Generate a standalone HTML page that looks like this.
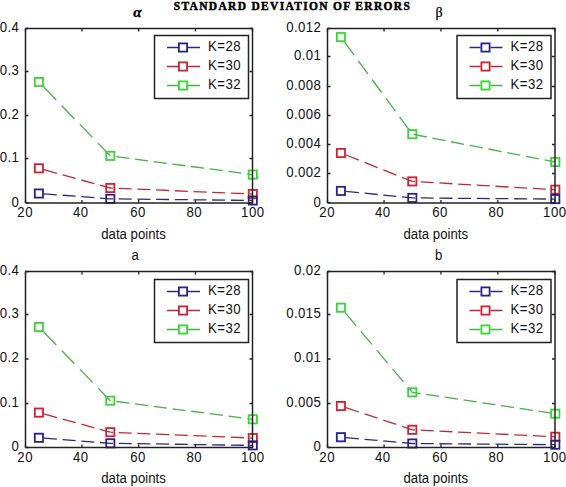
<!DOCTYPE html>
<html><head><meta charset="utf-8"><style>
html,body{margin:0;padding:0;background:#fff;width:566px;height:487px;overflow:hidden}
svg{display:block}
text{font-family:"Liberation Sans",sans-serif;font-size:14px;fill:#111}
text.s{font-size:15px}
</style></head><body>
<svg width="566" height="487" viewBox="0 0 566 487">
<rect width="566" height="487" fill="#fff"/>
<path d="M43.73 87L56.29 100 M61.8 105.7L74.36 118.7 M79.87 124.4L92.43 137.4 M97.93 143.1L110.3 155.9 M110.3 155.9L110.5 155.93 M116.2 156.67L129.2 158.38 M134.9 159.13L147.9 160.83 M153.6 161.58L166.6 163.29 M172.3 164.04L185.3 165.74 M191 166.49L204 168.2 M209.7 168.94L222.7 170.65 M228.4 171.4L241.4 173.1 M247.1 173.85L252.8 174.6" stroke="#45b045" stroke-width="1.3" fill="none"/>
<path d="M43.9 169.68L56.9 173.27 M62.6 174.84L75.6 178.43 M81.3 180L94.3 183.59 M100 185.16L110.3 188 M110.3 188L113 188.12 M118.7 188.36L131.7 188.92 M137.4 189.16L150.4 189.72 M156.1 189.96L169.1 190.52 M174.8 190.76L187.8 191.32 M193.5 191.56L206.5 192.12 M212.2 192.36L225.2 192.92 M230.9 193.16L243.9 193.72 M249.6 193.96L252.8 194.1" stroke="#c02838" stroke-width="1.3" fill="none"/>
<path d="M43.9 193.87L56.9 194.84 M62.6 195.26L75.6 196.22 M81.3 196.65L94.3 197.61 M100 198.04L110.3 198.8 M110.3 198.8L113 198.83 M118.7 198.9L131.7 199.06 M137.4 199.12L150.4 199.28 M156.1 199.35L169.1 199.5 M174.8 199.57L187.8 199.72 M193.5 199.79L206.5 199.95 M212.2 200.02L225.2 200.17 M230.9 200.24L243.9 200.39 M249.6 200.46L252.8 200.5" stroke="#2e2880" stroke-width="1.3" fill="none"/>
<rect x="34.8" y="77.9" width="8.2" height="8.2" fill="none" stroke="#3ad43a" stroke-width="1.8"/>
<rect x="106.2" y="151.8" width="8.2" height="8.2" fill="none" stroke="#3ad43a" stroke-width="1.8"/>
<rect x="248.7" y="170.5" width="8.2" height="8.2" fill="none" stroke="#3ad43a" stroke-width="1.8"/>
<rect x="34.8" y="164.2" width="8.2" height="8.2" fill="none" stroke="#cc2233" stroke-width="1.8"/>
<rect x="106.2" y="183.9" width="8.2" height="8.2" fill="none" stroke="#cc2233" stroke-width="1.8"/>
<rect x="248.7" y="190" width="8.2" height="8.2" fill="none" stroke="#cc2233" stroke-width="1.8"/>
<rect x="34.8" y="189.4" width="8.2" height="8.2" fill="none" stroke="#2a2288" stroke-width="1.8"/>
<rect x="106.2" y="194.7" width="8.2" height="8.2" fill="none" stroke="#2a2288" stroke-width="1.8"/>
<rect x="248.7" y="196.4" width="8.2" height="8.2" fill="none" stroke="#2a2288" stroke-width="1.8"/>
<path d="M25.25 28.5H252.5M25.5 28.5V203" stroke="#222" stroke-width="1.5" fill="none"/>
<path d="M25.5 203H252.5" stroke="#222" stroke-width="1.5" fill="none"/>
<path d="M252.5 27.75V203.75" stroke="#222" stroke-width="1.5" fill="none"/>
<path d="M25.5 203V200M25.5 28.5V31.5M81.95 203V200M81.95 28.5V31.5M138.7 203V200M138.7 28.5V31.5M195.45 203V200M195.45 28.5V31.5M252.5 203V200M252.5 28.5V31.5M25.5 202.7H28.5M252.5 202.7H249.5M25.5 158.5H28.5M252.5 158.5H249.5M25.5 115.5H28.5M252.5 115.5H249.5M25.5 71.5H28.5M252.5 71.5H249.5M25.5 28.5H28.5M252.5 28.5H249.5" stroke="#222" stroke-width="1.3" fill="none"/>
<text class="s" transform="translate(25.12,217.2) scale(0.88,1)" text-anchor="middle" letter-spacing="0.5">20</text>
<text class="s" transform="translate(80.72,217.2) scale(0.88,1)" text-anchor="middle" letter-spacing="0.5">40</text>
<text class="s" transform="translate(138.02,217.2) scale(0.88,1)" text-anchor="middle" letter-spacing="0.5">60</text>
<text class="s" transform="translate(194.22,217.2) scale(0.88,1)" text-anchor="middle" letter-spacing="0.5">80</text>
<text class="s" transform="translate(252.77,217.2) scale(0.88,1)" text-anchor="middle" letter-spacing="0.5">100</text>
<text class="s" transform="translate(19.34,206.6) scale(0.88,1)" text-anchor="end" letter-spacing="0.5">0</text>
<text class="s" transform="translate(19.34,161.7) scale(0.88,1)" text-anchor="end" letter-spacing="0.5">0.1</text>
<text class="s" transform="translate(19.34,118.7) scale(0.88,1)" text-anchor="end" letter-spacing="0.5">0.2</text>
<text class="s" transform="translate(19.34,74.7) scale(0.88,1)" text-anchor="end" letter-spacing="0.5">0.3</text>
<text class="s" transform="translate(19.34,31.7) scale(0.88,1)" text-anchor="end" letter-spacing="0.5">0.4</text>
<text class="s" transform="translate(133.5,238.5) scale(0.88,1)" text-anchor="middle">data points</text>
<rect x="154.5" y="35.5" width="94" height="63" fill="#fff" stroke="#222" stroke-width="1.5"/>
<path d="M167 47.5H178M188 47.5H200" stroke="#2e2880" stroke-width="1.3"/>
<rect x="178.9" y="43.4" width="8.2" height="8.2" fill="none" stroke="#2a2288" stroke-width="1.8"/>
<text class="s" transform="translate(208,50.5) scale(0.88,1)" letter-spacing="0.55">K=28</text>
<path d="M167 66.5H178M188 66.5H200" stroke="#c02838" stroke-width="1.3"/>
<rect x="178.9" y="62.4" width="8.2" height="8.2" fill="none" stroke="#cc2233" stroke-width="1.8"/>
<text class="s" transform="translate(208,69.5) scale(0.88,1)" letter-spacing="0.55">K=30</text>
<path d="M167 85.5H178M188 85.5H200" stroke="#45b045" stroke-width="1.3"/>
<rect x="178.9" y="81.4" width="8.2" height="8.2" fill="none" stroke="#3ad43a" stroke-width="1.8"/>
<text class="s" transform="translate(208,88.5) scale(0.88,1)" letter-spacing="0.55">K=32</text>
<path d="M344.58 42.1L354.14 55.1 M358.33 60.8L367.89 73.8 M372.08 79.5L381.64 92.5 M385.83 98.2L395.39 111.2 M399.58 116.9L409.14 129.9 M413.7 134.47L426.7 137 M432.4 138.11L445.4 140.63 M451.1 141.74L464.1 144.27 M469.8 145.38L482.8 147.91 M488.5 149.01L501.5 151.54 M507.2 152.65L520.2 155.18 M525.9 156.28L538.9 158.81 M544.6 159.92L555.3 162" stroke="#45b045" stroke-width="1.3" fill="none"/>
<path d="M345.9 154.99L358.9 160.16 M364.6 162.43L377.6 167.6 M383.3 169.86L396.3 175.04 M402 177.3L412.3 181.4 M412.3 181.4L415 181.56 M420.7 181.89L433.7 182.64 M439.4 182.97L452.4 183.73 M458.1 184.06L471.1 184.81 M476.8 185.14L489.8 185.9 M495.5 186.23L508.5 186.98 M514.2 187.31L527.2 188.07 M532.9 188.4L545.9 189.15 M551.6 189.49L555.3 189.7" stroke="#c02838" stroke-width="1.3" fill="none"/>
<path d="M345.9 191.39L358.9 192.66 M364.6 193.22L377.6 194.5 M383.3 195.06L396.3 196.33 M402 196.89L412.3 197.9 M412.3 197.9L415 197.92 M420.7 197.97L433.7 198.08 M439.4 198.13L452.4 198.24 M458.1 198.28L471.1 198.39 M476.8 198.44L489.8 198.55 M495.5 198.6L508.5 198.71 M514.2 198.76L527.2 198.86 M532.9 198.91L545.9 199.02 M551.6 199.07L555.3 199.1" stroke="#2e2880" stroke-width="1.3" fill="none"/>
<rect x="336.8" y="33" width="8.2" height="8.2" fill="none" stroke="#3ad43a" stroke-width="1.8"/>
<rect x="408.2" y="130.1" width="8.2" height="8.2" fill="none" stroke="#3ad43a" stroke-width="1.8"/>
<rect x="551.2" y="157.9" width="8.2" height="8.2" fill="none" stroke="#3ad43a" stroke-width="1.8"/>
<rect x="336.8" y="148.9" width="8.2" height="8.2" fill="none" stroke="#cc2233" stroke-width="1.8"/>
<rect x="408.2" y="177.3" width="8.2" height="8.2" fill="none" stroke="#cc2233" stroke-width="1.8"/>
<rect x="551.2" y="185.6" width="8.2" height="8.2" fill="none" stroke="#cc2233" stroke-width="1.8"/>
<rect x="336.8" y="186.8" width="8.2" height="8.2" fill="none" stroke="#2a2288" stroke-width="1.8"/>
<rect x="408.2" y="193.8" width="8.2" height="8.2" fill="none" stroke="#2a2288" stroke-width="1.8"/>
<rect x="551.2" y="195" width="8.2" height="8.2" fill="none" stroke="#2a2288" stroke-width="1.8"/>
<path d="M327.25 28.5H555M327.5 28.5V203" stroke="#222" stroke-width="1.5" fill="none"/>
<path d="M327.5 203H555" stroke="#222" stroke-width="1.5" fill="none"/>
<path d="M555 27.75V203.75" stroke="#222" stroke-width="1.5" fill="none"/>
<path d="M327.5 203V200M327.5 28.5V31.5M384.07 203V200M384.07 28.5V31.5M440.95 203V200M440.95 28.5V31.5M497.82 203V200M497.82 28.5V31.5M555 203V200M555 28.5V31.5M327.5 202.7H330.5M555 202.7H552M327.5 173.5H330.5M555 173.5H552M327.5 144.5H330.5M555 144.5H552M327.5 115.5H330.5M555 115.5H552M327.5 86.5H330.5M555 86.5H552M327.5 56.5H330.5M555 56.5H552M327.5 28.5H330.5M555 28.5H552" stroke="#222" stroke-width="1.3" fill="none"/>
<text class="s" transform="translate(327.12,217.2) scale(0.88,1)" text-anchor="middle" letter-spacing="0.5">20</text>
<text class="s" transform="translate(382.72,217.2) scale(0.88,1)" text-anchor="middle" letter-spacing="0.5">40</text>
<text class="s" transform="translate(440.02,217.2) scale(0.88,1)" text-anchor="middle" letter-spacing="0.5">60</text>
<text class="s" transform="translate(496.22,217.2) scale(0.88,1)" text-anchor="middle" letter-spacing="0.5">80</text>
<text class="s" transform="translate(554.77,217.2) scale(0.88,1)" text-anchor="middle" letter-spacing="0.5">100</text>
<text class="s" transform="translate(321.34,206.6) scale(0.88,1)" text-anchor="end" letter-spacing="0.5">0</text>
<text class="s" transform="translate(321.34,176.7) scale(0.88,1)" text-anchor="end" letter-spacing="0.5">0.002</text>
<text class="s" transform="translate(321.34,147.7) scale(0.88,1)" text-anchor="end" letter-spacing="0.5">0.004</text>
<text class="s" transform="translate(321.34,118.7) scale(0.88,1)" text-anchor="end" letter-spacing="0.5">0.006</text>
<text class="s" transform="translate(321.34,89.7) scale(0.88,1)" text-anchor="end" letter-spacing="0.5">0.008</text>
<text class="s" transform="translate(321.34,59.7) scale(0.88,1)" text-anchor="end" letter-spacing="0.5">0.01</text>
<text class="s" transform="translate(321.34,31.7) scale(0.88,1)" text-anchor="end" letter-spacing="0.5">0.012</text>
<text class="s" transform="translate(435.75,238.5) scale(0.88,1)" text-anchor="middle">data points</text>
<rect x="457" y="35.5" width="94" height="63" fill="#fff" stroke="#222" stroke-width="1.5"/>
<path d="M469.5 47.5H480.5M490.5 47.5H502.5" stroke="#2e2880" stroke-width="1.3"/>
<rect x="481.4" y="43.4" width="8.2" height="8.2" fill="none" stroke="#2a2288" stroke-width="1.8"/>
<text class="s" transform="translate(510.5,50.5) scale(0.88,1)" letter-spacing="0.55">K=28</text>
<path d="M469.5 66.5H480.5M490.5 66.5H502.5" stroke="#c02838" stroke-width="1.3"/>
<rect x="481.4" y="62.4" width="8.2" height="8.2" fill="none" stroke="#cc2233" stroke-width="1.8"/>
<text class="s" transform="translate(510.5,69.5) scale(0.88,1)" letter-spacing="0.55">K=30</text>
<path d="M469.5 85.5H480.5M490.5 85.5H502.5" stroke="#45b045" stroke-width="1.3"/>
<rect x="481.4" y="81.4" width="8.2" height="8.2" fill="none" stroke="#3ad43a" stroke-width="1.8"/>
<text class="s" transform="translate(510.5,88.5) scale(0.88,1)" letter-spacing="0.55">K=32</text>
<path d="M43.74 332L56.34 345 M61.86 350.7L74.45 363.7 M79.98 369.4L92.57 382.4 M98.09 388.1L110.3 400.7 M110.3 400.7L110.7 400.75 M116.4 401.5L129.4 403.19 M135.1 403.94L148.1 405.63 M153.8 406.38L166.8 408.07 M172.5 408.82L185.5 410.52 M191.2 411.26L204.2 412.96 M209.9 413.7L222.9 415.4 M228.6 416.14L241.6 417.84 M247.3 418.58L252.8 419.3" stroke="#45b045" stroke-width="1.3" fill="none"/>
<path d="M43.9 413.97L56.9 417.54 M62.6 419.11L75.6 422.67 M81.3 424.24L94.3 427.81 M100 429.37L110.3 432.2 M110.3 432.2L113 432.31 M118.7 432.55L131.7 433.09 M137.4 433.32L150.4 433.86 M156.1 434.1L169.1 434.63 M174.8 434.87L187.8 435.41 M193.5 435.64L206.5 436.18 M212.2 436.42L225.2 436.96 M230.9 437.19L243.9 437.73 M249.6 437.97L252.8 438.1" stroke="#c02838" stroke-width="1.3" fill="none"/>
<path d="M43.9 438.19L56.9 439.19 M62.6 439.63L75.6 440.63 M81.3 441.07L94.3 442.07 M100 442.51L110.3 443.3 M110.3 443.3L113 443.34 M118.7 443.42L131.7 443.62 M137.4 443.7L150.4 443.89 M156.1 443.97L169.1 444.17 M174.8 444.25L187.8 444.44 M193.5 444.53L206.5 444.72 M212.2 444.8L225.2 444.99 M230.9 445.08L243.9 445.27 M249.6 445.35L252.8 445.4" stroke="#2e2880" stroke-width="1.3" fill="none"/>
<rect x="34.8" y="322.9" width="8.2" height="8.2" fill="none" stroke="#3ad43a" stroke-width="1.8"/>
<rect x="106.2" y="396.6" width="8.2" height="8.2" fill="none" stroke="#3ad43a" stroke-width="1.8"/>
<rect x="248.7" y="415.2" width="8.2" height="8.2" fill="none" stroke="#3ad43a" stroke-width="1.8"/>
<rect x="34.8" y="408.5" width="8.2" height="8.2" fill="none" stroke="#cc2233" stroke-width="1.8"/>
<rect x="106.2" y="428.1" width="8.2" height="8.2" fill="none" stroke="#cc2233" stroke-width="1.8"/>
<rect x="248.7" y="434" width="8.2" height="8.2" fill="none" stroke="#cc2233" stroke-width="1.8"/>
<rect x="34.8" y="433.7" width="8.2" height="8.2" fill="none" stroke="#2a2288" stroke-width="1.8"/>
<rect x="106.2" y="439.2" width="8.2" height="8.2" fill="none" stroke="#2a2288" stroke-width="1.8"/>
<rect x="248.7" y="441.3" width="8.2" height="8.2" fill="none" stroke="#2a2288" stroke-width="1.8"/>
<path d="M25.25 271.5H252.5M25.5 271.5V447.5" stroke="#222" stroke-width="1.5" fill="none"/>
<path d="M25.5 447.5H252.5" stroke="#222" stroke-width="1.5" fill="none"/>
<path d="M252.5 270.75V448.25" stroke="#222" stroke-width="1.5" fill="none"/>
<path d="M25.5 447.5V444.5M25.5 271.5V274.5M81.95 447.5V444.5M81.95 271.5V274.5M138.7 447.5V444.5M138.7 271.5V274.5M195.45 447.5V444.5M195.45 271.5V274.5M252.5 447.5V444.5M252.5 271.5V274.5M25.5 447.5H28.5M252.5 447.5H249.5M25.5 403.5H28.5M252.5 403.5H249.5M25.5 359H28.5M252.5 359H249.5M25.5 314.5H28.5M252.5 314.5H249.5M25.5 271.5H28.5M252.5 271.5H249.5" stroke="#222" stroke-width="1.3" fill="none"/>
<text class="s" transform="translate(25.12,461.7) scale(0.88,1)" text-anchor="middle" letter-spacing="0.5">20</text>
<text class="s" transform="translate(80.72,461.7) scale(0.88,1)" text-anchor="middle" letter-spacing="0.5">40</text>
<text class="s" transform="translate(138.02,461.7) scale(0.88,1)" text-anchor="middle" letter-spacing="0.5">60</text>
<text class="s" transform="translate(194.22,461.7) scale(0.88,1)" text-anchor="middle" letter-spacing="0.5">80</text>
<text class="s" transform="translate(252.77,461.7) scale(0.88,1)" text-anchor="middle" letter-spacing="0.5">100</text>
<text class="s" transform="translate(19.34,451.4) scale(0.88,1)" text-anchor="end" letter-spacing="0.5">0</text>
<text class="s" transform="translate(19.34,406.7) scale(0.88,1)" text-anchor="end" letter-spacing="0.5">0.1</text>
<text class="s" transform="translate(19.34,362.2) scale(0.88,1)" text-anchor="end" letter-spacing="0.5">0.2</text>
<text class="s" transform="translate(19.34,317.7) scale(0.88,1)" text-anchor="end" letter-spacing="0.5">0.3</text>
<text class="s" transform="translate(19.34,274.7) scale(0.88,1)" text-anchor="end" letter-spacing="0.5">0.4</text>
<text class="s" transform="translate(133.5,483) scale(0.88,1)" text-anchor="middle">data points</text>
<rect x="154.5" y="279.5" width="94" height="63" fill="#fff" stroke="#222" stroke-width="1.5"/>
<path d="M167 291.5H178M188 291.5H200" stroke="#2e2880" stroke-width="1.3"/>
<rect x="178.9" y="287.4" width="8.2" height="8.2" fill="none" stroke="#2a2288" stroke-width="1.8"/>
<text class="s" transform="translate(208,294.5) scale(0.88,1)" letter-spacing="0.55">K=28</text>
<path d="M167 310.5H178M188 310.5H200" stroke="#c02838" stroke-width="1.3"/>
<rect x="178.9" y="306.4" width="8.2" height="8.2" fill="none" stroke="#cc2233" stroke-width="1.8"/>
<text class="s" transform="translate(208,313.5) scale(0.88,1)" letter-spacing="0.55">K=30</text>
<path d="M167 329.5H178M188 329.5H200" stroke="#45b045" stroke-width="1.3"/>
<rect x="178.9" y="325.4" width="8.2" height="8.2" fill="none" stroke="#3ad43a" stroke-width="1.8"/>
<text class="s" transform="translate(208,332.5) scale(0.88,1)" letter-spacing="0.55">K=32</text>
<path d="M345.12 312.7L356.09 325.7 M360.9 331.4L371.87 344.4 M376.68 350.1L387.66 363.1 M392.47 368.8L403.44 381.8 M408.25 387.5L412.3 392.3 M412.3 392.3L420.5 393.53 M426.2 394.38L439.2 396.33 M444.9 397.18L457.9 399.12 M463.6 399.98L476.6 401.92 M482.3 402.78L495.3 404.72 M501 405.57L514 407.52 M519.7 408.37L532.7 410.32 M538.4 411.17L551.4 413.12" stroke="#45b045" stroke-width="1.3" fill="none"/>
<path d="M345.9 407.67L358.9 412 M364.6 413.9L377.6 418.23 M383.3 420.13L396.3 424.47 M402 426.37L412.3 429.8 M412.3 429.8L415 429.93 M420.7 430.21L433.7 430.85 M439.4 431.13L452.4 431.76 M458.1 432.04L471.1 432.68 M476.8 432.96L489.8 433.59 M495.5 433.87L508.5 434.51 M514.2 434.79L527.2 435.42 M532.9 435.7L545.9 436.34 M551.6 436.62L555.3 436.8" stroke="#c02838" stroke-width="1.3" fill="none"/>
<path d="M345.9 437.64L358.9 438.79 M364.6 439.29L377.6 440.44 M383.3 440.94L396.3 442.09 M402 442.59L412.3 443.5 M412.3 443.5L415 443.52 M420.7 443.57L433.7 443.68 M439.4 443.73L452.4 443.84 M458.1 443.88L471.1 443.99 M476.8 444.04L489.8 444.15 M495.5 444.2L508.5 444.31 M514.2 444.36L527.2 444.46 M532.9 444.51L545.9 444.62 M551.6 444.67L555.3 444.7" stroke="#2e2880" stroke-width="1.3" fill="none"/>
<rect x="336.8" y="303.6" width="8.2" height="8.2" fill="none" stroke="#3ad43a" stroke-width="1.8"/>
<rect x="408.2" y="388.2" width="8.2" height="8.2" fill="none" stroke="#3ad43a" stroke-width="1.8"/>
<rect x="551.2" y="409.6" width="8.2" height="8.2" fill="none" stroke="#3ad43a" stroke-width="1.8"/>
<rect x="336.8" y="401.9" width="8.2" height="8.2" fill="none" stroke="#cc2233" stroke-width="1.8"/>
<rect x="408.2" y="425.7" width="8.2" height="8.2" fill="none" stroke="#cc2233" stroke-width="1.8"/>
<rect x="551.2" y="432.7" width="8.2" height="8.2" fill="none" stroke="#cc2233" stroke-width="1.8"/>
<rect x="336.8" y="433.1" width="8.2" height="8.2" fill="none" stroke="#2a2288" stroke-width="1.8"/>
<rect x="408.2" y="439.4" width="8.2" height="8.2" fill="none" stroke="#2a2288" stroke-width="1.8"/>
<rect x="551.2" y="440.6" width="8.2" height="8.2" fill="none" stroke="#2a2288" stroke-width="1.8"/>
<path d="M327.25 271.5H555M327.5 271.5V447.5" stroke="#222" stroke-width="1.5" fill="none"/>
<path d="M327.5 447.5H555" stroke="#222" stroke-width="1.5" fill="none"/>
<path d="M555 270.75V448.25" stroke="#222" stroke-width="1.5" fill="none"/>
<path d="M327.5 447.5V444.5M327.5 271.5V274.5M384.07 447.5V444.5M384.07 271.5V274.5M440.95 447.5V444.5M440.95 271.5V274.5M497.82 447.5V444.5M497.82 271.5V274.5M555 447.5V444.5M555 271.5V274.5M327.5 447.5H330.5M555 447.5H552M327.5 403.5H330.5M555 403.5H552M327.5 359H330.5M555 359H552M327.5 314.5H330.5M555 314.5H552M327.5 271.5H330.5M555 271.5H552" stroke="#222" stroke-width="1.3" fill="none"/>
<text class="s" transform="translate(327.12,461.7) scale(0.88,1)" text-anchor="middle" letter-spacing="0.5">20</text>
<text class="s" transform="translate(382.72,461.7) scale(0.88,1)" text-anchor="middle" letter-spacing="0.5">40</text>
<text class="s" transform="translate(440.02,461.7) scale(0.88,1)" text-anchor="middle" letter-spacing="0.5">60</text>
<text class="s" transform="translate(496.22,461.7) scale(0.88,1)" text-anchor="middle" letter-spacing="0.5">80</text>
<text class="s" transform="translate(554.77,461.7) scale(0.88,1)" text-anchor="middle" letter-spacing="0.5">100</text>
<text class="s" transform="translate(321.34,451.4) scale(0.88,1)" text-anchor="end" letter-spacing="0.5">0</text>
<text class="s" transform="translate(321.34,406.7) scale(0.88,1)" text-anchor="end" letter-spacing="0.5">0.005</text>
<text class="s" transform="translate(321.34,362.2) scale(0.88,1)" text-anchor="end" letter-spacing="0.5">0.01</text>
<text class="s" transform="translate(321.34,317.7) scale(0.88,1)" text-anchor="end" letter-spacing="0.5">0.015</text>
<text class="s" transform="translate(321.34,274.7) scale(0.88,1)" text-anchor="end" letter-spacing="0.5">0.02</text>
<text class="s" transform="translate(435.75,483) scale(0.88,1)" text-anchor="middle">data points</text>
<rect x="457" y="279.5" width="94" height="63" fill="#fff" stroke="#222" stroke-width="1.5"/>
<path d="M469.5 291.5H480.5M490.5 291.5H502.5" stroke="#2e2880" stroke-width="1.3"/>
<rect x="481.4" y="287.4" width="8.2" height="8.2" fill="none" stroke="#2a2288" stroke-width="1.8"/>
<text class="s" transform="translate(510.5,294.5) scale(0.88,1)" letter-spacing="0.55">K=28</text>
<path d="M469.5 310.5H480.5M490.5 310.5H502.5" stroke="#c02838" stroke-width="1.3"/>
<rect x="481.4" y="306.4" width="8.2" height="8.2" fill="none" stroke="#cc2233" stroke-width="1.8"/>
<text class="s" transform="translate(510.5,313.5) scale(0.88,1)" letter-spacing="0.55">K=30</text>
<path d="M469.5 329.5H480.5M490.5 329.5H502.5" stroke="#45b045" stroke-width="1.3"/>
<rect x="481.4" y="325.4" width="8.2" height="8.2" fill="none" stroke="#3ad43a" stroke-width="1.8"/>
<text class="s" transform="translate(510.5,332.5) scale(0.88,1)" letter-spacing="0.55">K=32</text>
<text transform="scale(0.85,1)" x="204.47" y="9.7" style="font-family:&quot;Liberation Serif&quot;,serif;font-weight:bold;font-size:13.5px;fill:#000;stroke:#000;stroke-width:0.55" textLength="277.65" lengthAdjust="spacing">STANDARD DEVIATION OF ERRORS</text>
<text x="133.3" y="17" style="font-family:&quot;Liberation Serif&quot;,serif;font-weight:bold;font-style:italic;font-size:15px;fill:#000;stroke:#000;stroke-width:0.3">&#945;</text>
<text x="435.4" y="16.6" style="font-family:&quot;Liberation Serif&quot;,serif;font-size:14px;fill:#000;stroke:#000;stroke-width:0.25">&#946;</text>
<text class="s" transform="translate(131.5,260) scale(0.88,1)">a</text>
<text class="s" transform="translate(435.1,260) scale(0.88,1)">b</text>
</svg></body></html>
